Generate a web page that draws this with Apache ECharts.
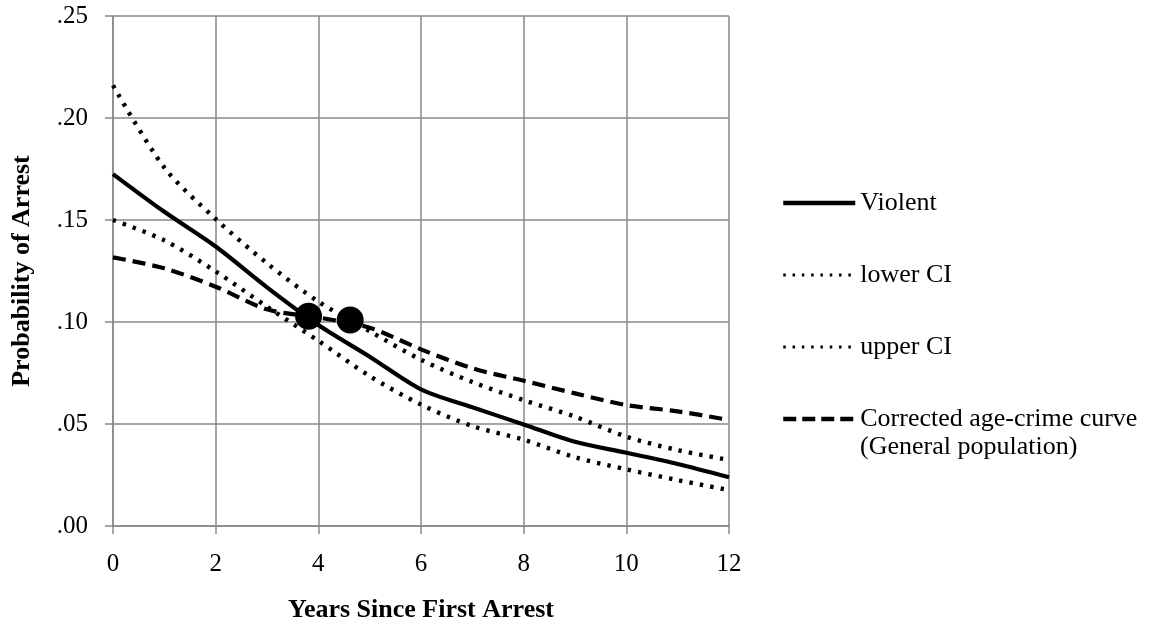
<!DOCTYPE html>
<html>
<head>
<meta charset="utf-8">
<script src="https://cdn.jsdelivr.net/npm/echarts@6/dist/echarts.min.js"></script>
<style>
  html, body { margin: 0; padding: 0; background: #fff; }
  #chart { width: 1151px; height: 631px; }
</style>
</head>
<body>
<div id="chart"></div>
<script>
// Years since first arrest (x values shared by all curves)
const years = [0, 1, 2, 3, 4, 5, 6, 7, 8, 9, 10, 11, 12];

// Probability of arrest by year
const violent = [0.1725, 0.154, 0.137, 0.117, 0.0985, 0.083, 0.067, 0.0582, 0.0498, 0.0413, 0.0359, 0.0304, 0.0239];
const lowerCI = [0.150, 0.140, 0.1248, 0.1075, 0.0908, 0.0735, 0.0595, 0.049, 0.0423, 0.0337, 0.0278, 0.0225, 0.0176];
const upperCI = [0.216, 0.1757, 0.1505, 0.1288, 0.110, 0.0955, 0.0815, 0.0706, 0.0617, 0.0536, 0.0438, 0.0372, 0.0324];
const generalPop = [0.1317, 0.1263, 0.1173, 0.1062, 0.1022, 0.0972, 0.0866, 0.0773, 0.0712, 0.065, 0.0593, 0.0562, 0.052];

// Crossing points marked with large dots
const dotYears = [3.81, 4.62];
const dotValues = [0.1028, 0.101];

const seriesNames = ['Violent', 'lower CI', 'upper CI', 'Corrected age-crime curve'];
const subLabel = '(General population)';

const FONT = '"Liberation Serif", "Times New Roman", serif';
const GRID_COLOR = '#898989';

const pairs = vals => years.map((y, i) => [y, vals[i]]);

const chart = echarts.init(document.getElementById('chart'), null, { renderer: 'canvas' });

const lineSeries = (name, vals, style) => ({
  name,
  type: 'line',
  data: pairs(vals),
  smooth: 0.3,
  symbol: 'none',
  z: 3,
  lineStyle: Object.assign({ color: '#000' }, style),
  itemStyle: { color: '#000' }
});

const solid = { width: 4.2, type: 'solid' };
const dotted = { width: 4.4, type: [3.4, 7.1], cap: 'butt' };
const dashed = { width: 4.2, type: [13, 7] };

chart.setOption({
  animation: false,
  backgroundColor: '#fff',
  textStyle: { fontFamily: FONT, color: '#000' },
  grid: { left: 113, right: 422, top: 16, bottom: 105 },
  xAxis: {
    type: 'value',
    min: 0, max: 12, interval: 2,
    name: 'Years Since First Arrest',
    nameLocation: 'middle',
    nameGap: 71,
    nameTextStyle: { fontFamily: FONT, fontSize: 26, fontWeight: 'bold', color: '#000' },
    axisLine: { show: true, lineStyle: { color: GRID_COLOR, width: 1.5 } },
    axisTick: { show: true, inside: false, length: 8, lineStyle: { color: GRID_COLOR, width: 1.5 } },
    axisLabel: { margin: 26, fontFamily: FONT, fontSize: 25, color: '#000' },
    splitLine: { show: true, lineStyle: { color: GRID_COLOR, width: 1.5 } }
  },
  yAxis: {
    type: 'value',
    min: 0, max: 0.25, interval: 0.05,
    name: 'Probability of Arrest',
    nameLocation: 'middle',
    nameGap: 78,
    nameTextStyle: { fontFamily: FONT, fontSize: 26, fontWeight: 'bold', color: '#000' },
    axisLine: { show: true, lineStyle: { color: GRID_COLOR, width: 1.5 } },
    axisTick: { show: true, inside: false, length: 8, lineStyle: { color: GRID_COLOR, width: 1.5 } },
    axisLabel: {
      margin: 25, fontFamily: FONT, fontSize: 25, color: '#000',
      formatter: v => v.toFixed(2).replace(/^0/, '')
    },
    splitLine: { show: true, lineStyle: { color: GRID_COLOR, width: 1.5 } }
  },
  legend: {
    orient: 'vertical',
    left: 781,
    top: 190,
    padding: 0,
    itemGap: 46,
    itemWidth: 72,
    itemHeight: 14,
    itemStyle: { opacity: 0 },
    textStyle: { fontFamily: FONT, fontSize: 26, color: '#000' },
    data: [
      { name: seriesNames[0], lineStyle: { width: 4.5, type: 'solid', color: '#000' } },
      { name: seriesNames[1], lineStyle: { width: 3, type: [2.5, 6.8], color: '#000' } },
      { name: seriesNames[2], lineStyle: { width: 3, type: [2.5, 6.8], color: '#000' } },
      { name: seriesNames[3], lineStyle: { width: 4.5, type: [13, 6], color: '#000' } }
    ]
  },
  graphic: [{
    type: 'text',
    left: 860,
    top: 434,
    style: { text: subLabel, font: '26px ' + FONT, fill: '#000' }
  }],
  series: [
    lineSeries(seriesNames[0], violent, solid),
    lineSeries(seriesNames[1], lowerCI, dotted),
    lineSeries(seriesNames[2], upperCI, dotted),
    lineSeries(seriesNames[3], generalPop, dashed),
    {
      name: 'crossings',
      type: 'scatter',
      data: dotYears.map((y, i) => [y, dotValues[i]]),
      symbol: 'circle',
      symbolSize: 27,
      z: 5,
      itemStyle: { color: '#000', opacity: 1 }
    }
  ]
});
</script>
</body>
</html>
